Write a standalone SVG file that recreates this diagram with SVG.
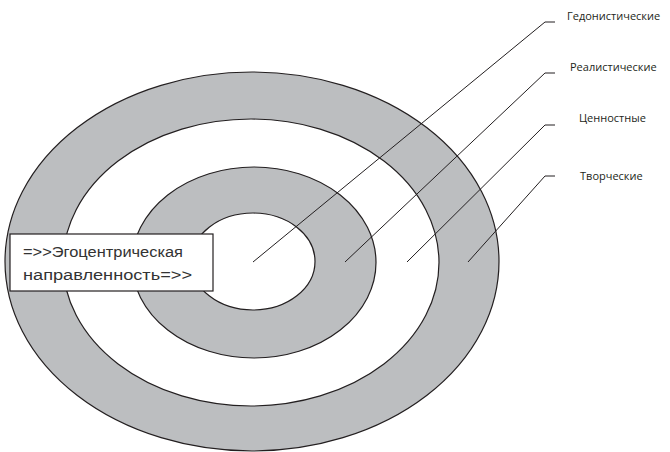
<svg xmlns="http://www.w3.org/2000/svg" width="670" height="452" viewBox="0 0 670 452">
<style>
.ring{stroke:#231f20;stroke-width:1.2}
.g{fill:#bcbec0}
.w{fill:#ffffff}
.lead{fill:none;stroke:#231f20;stroke-width:1}
.lbl{font-family:"Open Sans","Liberation Sans",sans-serif;font-size:11px;fill:#231f20}
.box{font-family:"Liberation Sans","DejaVu Sans",sans-serif;font-size:14px;fill:#333333}
</style>
<rect width="670" height="452" fill="#ffffff"/>
<g id="ring-tvorcheskie"><ellipse class="ring g" cx="252" cy="261.5" rx="247" ry="189.5"/></g>
<g id="ring-cennostnye"><ellipse class="ring w" cx="251" cy="262.5" rx="188" ry="143.5"/></g>
<g id="ring-realisticheskie"><ellipse class="ring g" cx="254" cy="262.5" rx="122" ry="95.5"/></g>
<g id="ring-gedonisticheskie"><ellipse class="ring w" cx="253" cy="261.5" rx="62" ry="48.5"/></g>
<g id="connectors">
<polyline class="lead" points="555,22 545,22 253,262"/>
<polyline class="lead" points="555,73 545,73 345,262"/>
<polyline class="lead" points="555,125 545,125 407,262"/>
<polyline class="lead" points="555,176 545,176 468,262"/>
</g>
<g id="label-gedonisticheskie"><text class="lbl" x="567" y="20">Гедонистические</text></g>
<g id="label-realisticheskie"><text class="lbl" x="570" y="71">Реалистические</text></g>
<g id="label-cennostnye"><text class="lbl" x="579" y="122">Ценностные</text></g>
<g id="label-tvorcheskie"><text class="lbl" x="580" y="180">Творческие</text></g>
<g id="egocentric-box">
<rect x="10" y="234" width="203" height="57" fill="#ffffff" stroke="#231f20" stroke-width="1.2"/>
<text class="box" x="23" y="257" textLength="160" lengthAdjust="spacingAndGlyphs">=&gt;&gt;Эгоцентрическая</text>
<text class="box" x="23" y="280" textLength="169" lengthAdjust="spacingAndGlyphs">направленность=&gt;&gt;</text>
</g>
</svg>
